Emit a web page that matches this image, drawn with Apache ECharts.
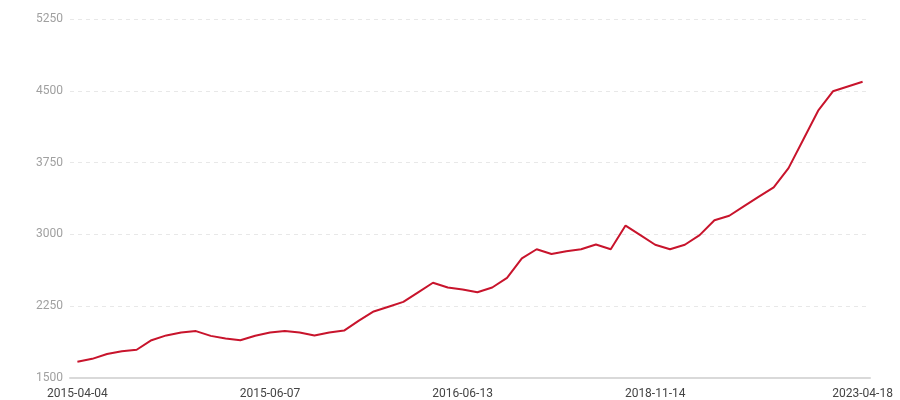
<!DOCTYPE html>
<html>
<head>
<meta charset="utf-8">
<script src="https://cdn.jsdelivr.net/npm/echarts@6/dist/echarts.min.js"></script>
<style>html,body{margin:0;padding:0;background:#fff;}#c{width:900px;height:400px;}</style>
</head>
<body>
<div id="c"></div>
<script>
var dates = [
  '2015-04-04','2015-04-08','2015-04-12','2015-04-15','2015-04-19','2015-04-23','2015-04-26',
  '2015-04-30','2015-05-04','2015-05-09','2015-05-14','2015-05-20','2015-05-28',
  '2015-06-07','2015-06-21','2015-07-08','2015-07-27','2015-08-19','2015-09-10',
  '2015-10-04','2015-10-29','2015-11-24','2015-12-20','2016-01-18','2016-02-27','2016-04-12',
  '2016-06-13','2016-08-10','2016-10-06','2016-12-02','2017-01-29','2017-03-28','2017-05-24',
  '2017-07-21','2017-09-17','2017-11-14','2018-02-10','2018-05-09','2018-08-12',
  '2018-11-14','2019-02-18','2019-05-25','2019-08-29','2019-12-03','2020-03-08','2020-06-12',
  '2020-09-16','2020-12-21','2021-03-27','2021-07-01','2021-10-05','2022-02-08','2022-09-12',
  '2023-04-18'
];
var values = [
  1670, 1700, 1750, 1780, 1795, 1895, 1945, 1975, 1990, 1940, 1912, 1895,
  1942, 1975, 1990, 1975, 1945, 1975, 1995, 2100, 2195, 2245, 2295, 2395,
  2495, 2445, 2425, 2395, 2445, 2545, 2750, 2845, 2795, 2825, 2845, 2895,
  2845, 3092, 2992, 2892, 2845, 2892, 2992, 3148, 3195, 3295, 3395, 3492,
  3692, 3992, 4292, 4495, 4545, 4595
];
var yTicks = { min: 1500, max: 5250, interval: 750 };

var last = dates.length - 1;
function showAt(i) { return i === last || (i % 13 === 0 && last - i > 6); }
var chart = echarts.init(document.getElementById('c'), null, { renderer: 'canvas' });
chart.setOption({
  animation: false,
  grid: { left: 70, right: 30, top: 19, bottom: 19 },
  xAxis: {
    type: 'category',
    data: dates,
    boundaryGap: true,
    axisLine: { lineStyle: { color: '#d9d9d9', width: 2 } },
    axisTick: {
      alignWithLabel: true, length: 4,
      lineStyle: { color: '#bbb' },
      interval: showAt
    },
    axisLabel: {
      color: '#444', fontSize: 12, margin: 10,
      fontFamily: 'Roboto, sans-serif',
      interval: showAt,
      hideOverlap: false
    },
    splitLine: { show: false }
  },
  yAxis: {
    type: 'value',
    min: yTicks.min, max: yTicks.max, interval: yTicks.interval,
    axisLine: { show: false },
    axisTick: { show: false },
    axisLabel: {
      color: '#a0a0a0', fontSize: 12, margin: 7, fontFamily: 'Roboto, sans-serif',
      formatter: function (v) { return String(v); }
    },
    splitLine: { lineStyle: { color: '#e8e8e8', type: [4, 4], width: 1 } }
  },
  series: [{
    type: 'line',
    data: values,
    showSymbol: false,
    symbol: 'none',
    lineStyle: { color: '#c8142c', width: 2 },
    itemStyle: { color: '#c8142c' }
  }]
});
</script>
</body>
</html>
